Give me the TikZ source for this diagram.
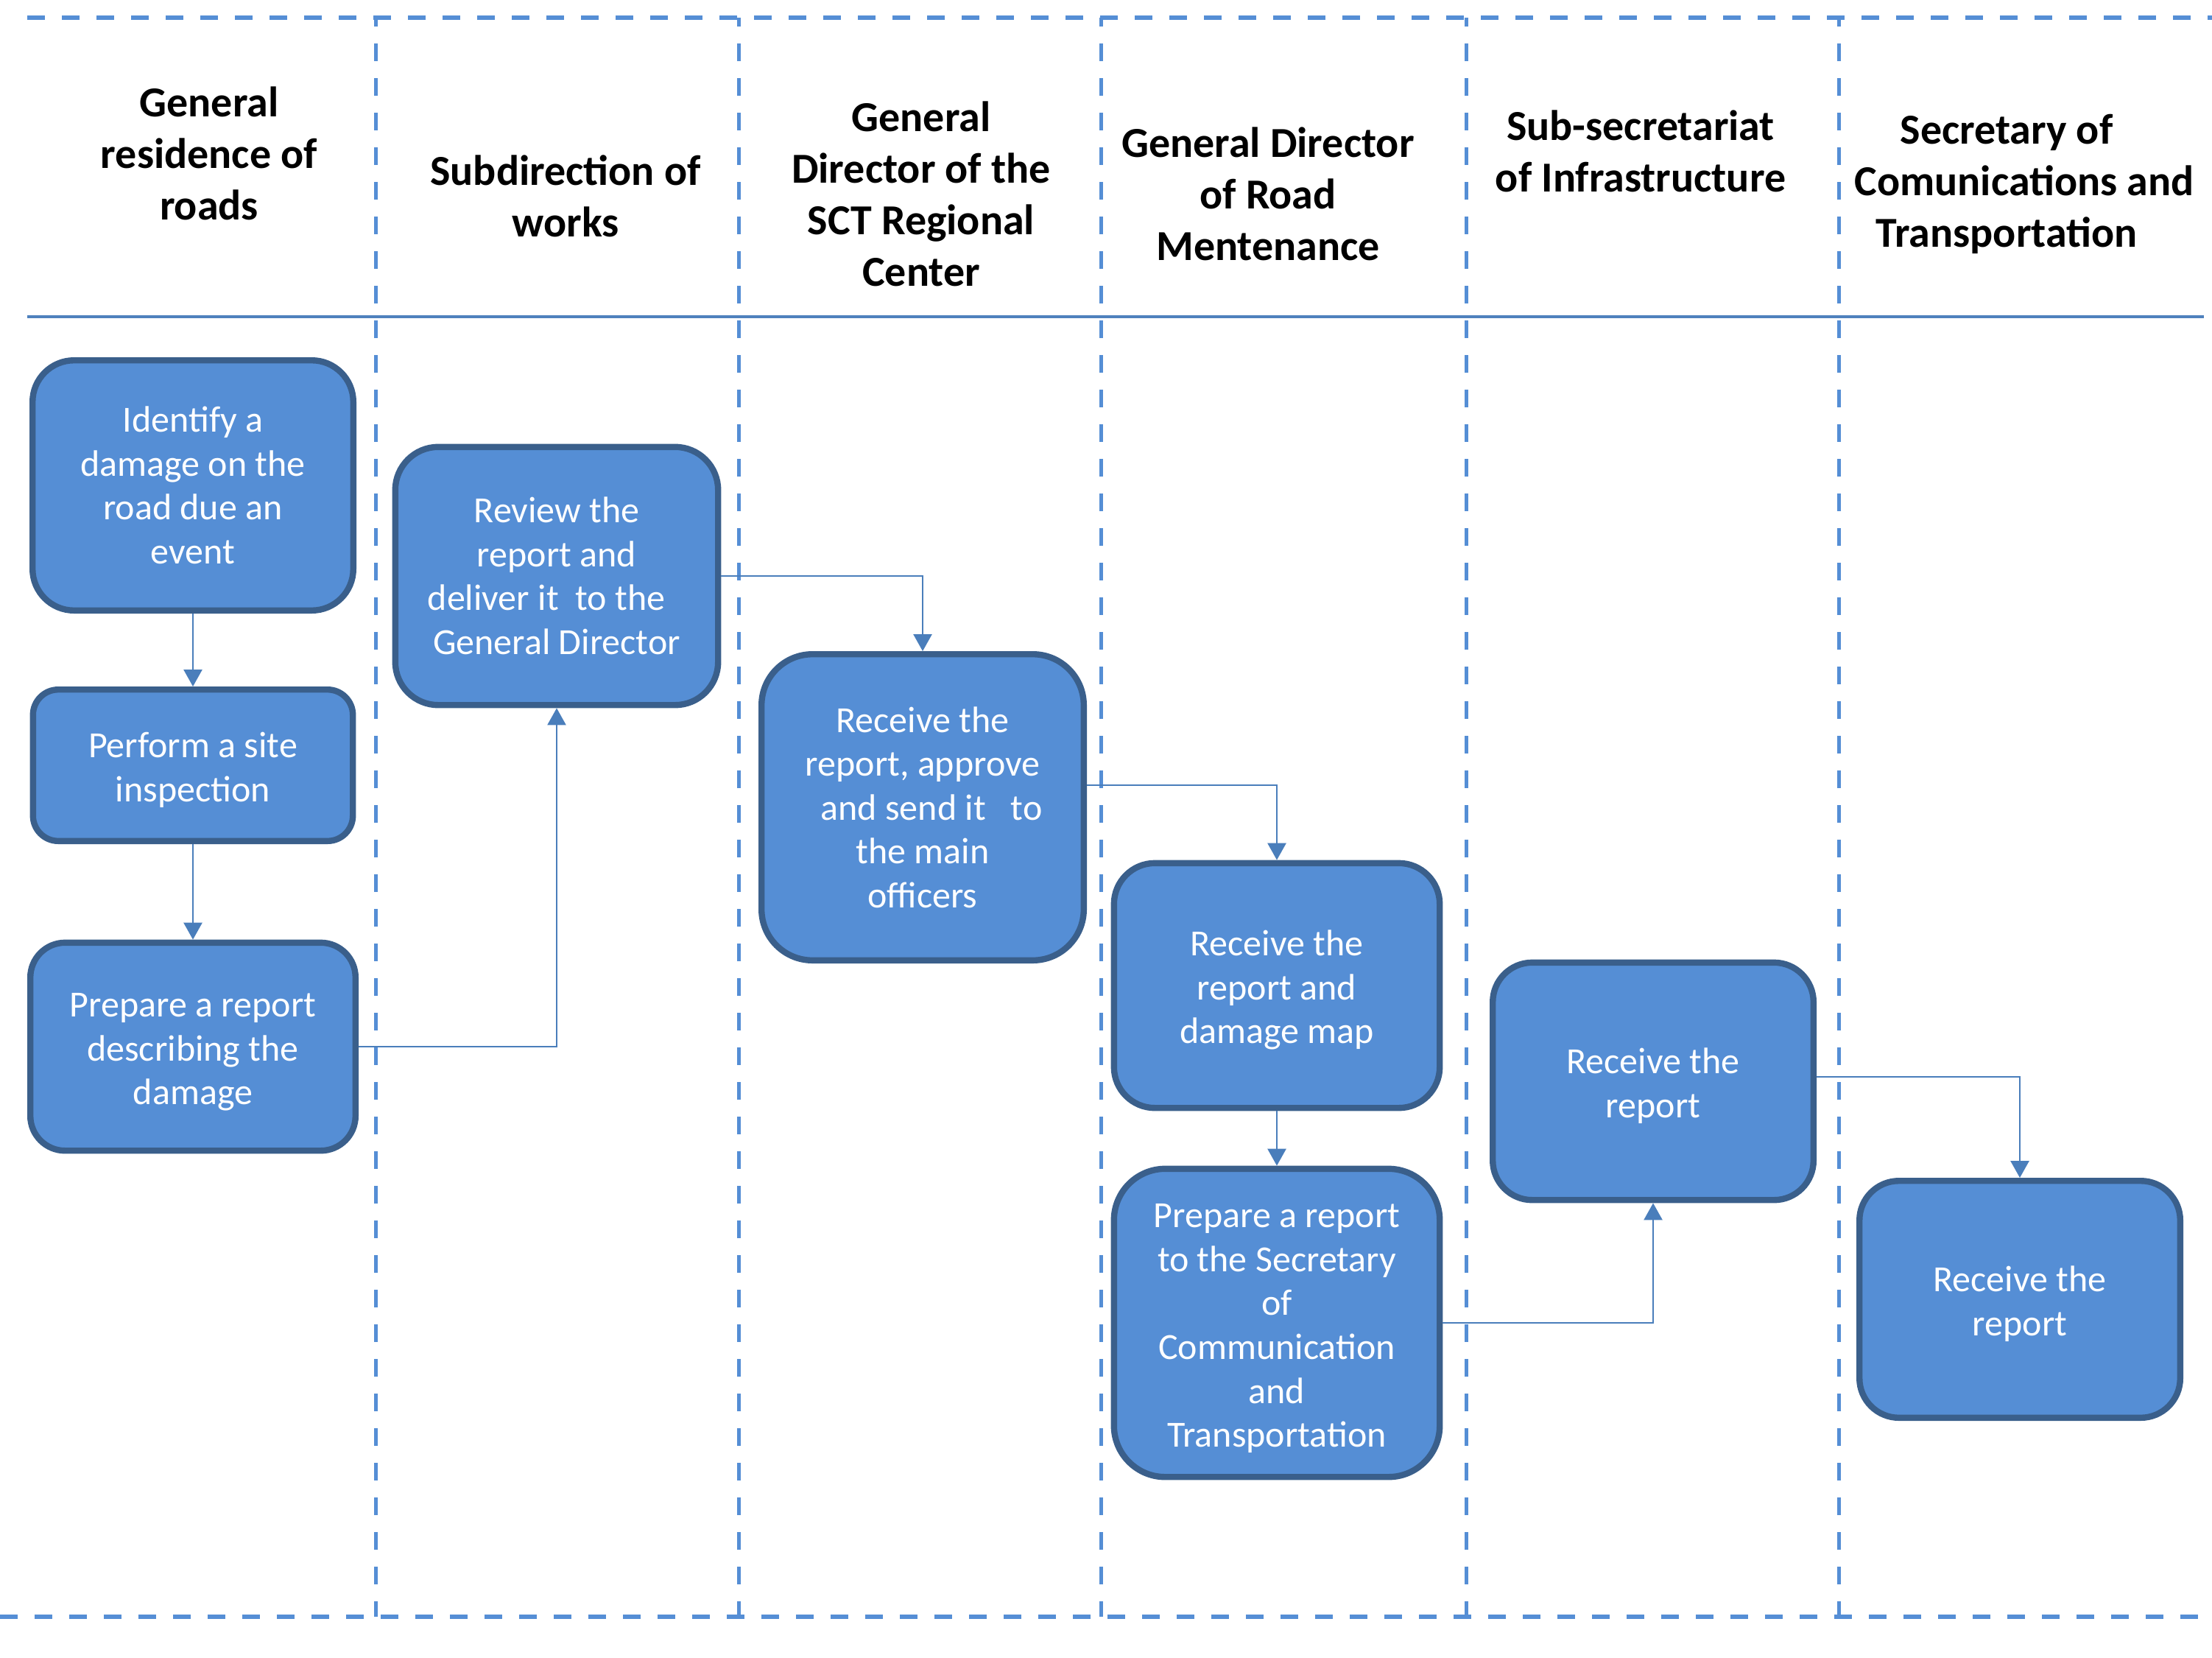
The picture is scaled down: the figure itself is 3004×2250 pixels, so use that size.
\documentclass[tikz,border=0pt]{standalone}
\usepackage{fontspec}
\setmainfont{Carlito}
\usetikzlibrary{arrows.meta,calc}
\definecolor{boxfill}{RGB}{85,142,213}
\definecolor{boxline}{RGB}{58,95,139}
\definecolor{conn}{RGB}{74,126,187}
\definecolor{lanedash}{RGB}{85,142,213}
\definecolor{sepline}{RGB}{79,129,189}
\newcommand\mytopstrut{\rule{0pt}{11.8pt}}
\begin{document}
\begin{tikzpicture}[x=0.25pt,y=-0.25pt,
  stepbox/.style={draw=boxline, fill=boxfill, line width=2.1pt, text=white, align=center, inner sep=0pt, font={\fontsize{12.5pt}{14.9pt}\selectfont}},
  head/.style={align=center, inner sep=0pt, font={\fontsize{14.5pt}{17.5pt}\selectfont\bfseries}},
  flow/.style={draw=conn, line width=0.68pt, -{Triangle[length=5.75pt,width=6.25pt]}},
  lane/.style={draw=lanedash, line width=1.5pt, dash pattern=on 6pt off 5.75pt},
  vlane/.style={draw=lanedash, line width=1.25pt, dash pattern=on 6pt off 5.75pt, dash phase=3pt}
]
\useasboundingbox (0,0) rectangle (3004,2250);

% lanes
\draw[lane] (37,24) -- (3004,24);
\draw[lane] (0,2195) -- (3004,2195);
\foreach \x in {510,1003,1495,1991,2497} \draw[vlane] (\x,24) -- (\x,2195);
\draw[draw=sepline, line width=0.85pt] (37,430) -- (2993,430);

% headers
\node[head] (h1) at (284,208) {General\\residence of\\roads};
\node[head] (h2) at (768,266) {Subdirection of\\works};
\node[head] (h3) at (1251,263) {General\\Director of the\\SCT Regional\\Center};
\node[head] (h4) at (1722,263) {General Director\\of Road\\Mentenance};
\node[head] (h5) at (2228,205) {Sub-secretariat\\of Infrastructure};
\node[head] (h6) at (2749,250) {Secretary of\kern12pt\\Comunications and\\Transportation\kern12pt};

% steps
\node[stepbox, minimum width=108.9pt, minimum height=84.9pt, rounded corners=14.1pt] (b1) at (262,659) {Identify a\\damage on the\\road due an\\event};
\node[stepbox, minimum width=108.6pt, minimum height=51.4pt, rounded corners=8.6pt] (b2) at (262,1039) {\mytopstrut Perform a site\\inspection};
\node[stepbox, minimum width=110.4pt, minimum height=70.6pt, rounded corners=11.8pt] (b3) at (262,1421) {\mytopstrut Prepare a report\\describing the\\damage};
\node[stepbox, minimum width=109.6pt, minimum height=87.6pt, rounded corners=14.6pt] (b4) at (756,782) {Review the\\report and\\deliver it\ \ to the\kern7pt\\General Director};
\node[stepbox, minimum width=109.4pt, minimum height=103.9pt, rounded corners=17.3pt] (b5) at (1253,1096) {Receive the\\report, approve\\\kern6pt and send it\ \ \ to\\the main\\officers};
\node[stepbox, minimum width=110.6pt, minimum height=83.1pt, rounded corners=13.9pt] (b6) at (1734,1338) {\mytopstrut Receive the\\report and\\damage map};
\node[stepbox, minimum width=110.6pt, minimum height=104.6pt, rounded corners=17.4pt] (b7) at (1734,1796) {\mytopstrut Prepare a report\\to the Secretary\\of\\Communication\\and\\Transportation};
\node[stepbox, minimum width=108.9pt, minimum height=80.6pt, rounded corners=13.4pt] (b8) at (2245,1468) {\mytopstrut Receive the\\report};
\node[stepbox, minimum width=108.9pt, minimum height=80.4pt, rounded corners=13.4pt] (b9) at (2743,1764) {\mytopstrut Receive the\\report};

% connectors
\draw[flow] (b1.south) -- (b2.north);
\draw[flow] (b2.south) -- (b3.north);
\draw[flow] (b3.east) -| (b4.south);
\draw[flow] (b4.east) -| (b5.north);
\draw[flow] ($(b5.east)+(0,-30)$) -| (b6.north);
\draw[flow] (b6.south) -- (b7.north);
\draw[flow] (b7.east) -| (b8.south);
\draw[flow] ($(b8.east)+(0,-6)$) -| (b9.north);
\end{tikzpicture}
\end{document}
